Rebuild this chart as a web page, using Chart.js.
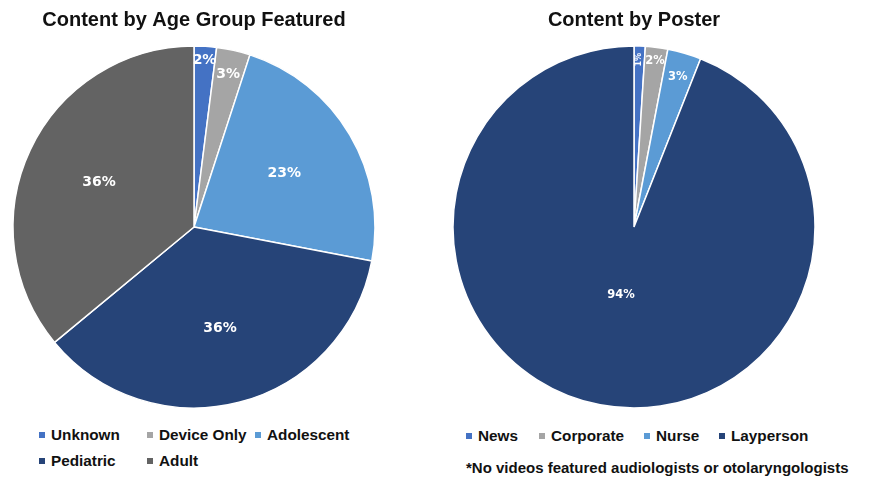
<!DOCTYPE html>
<html>
<head>
<meta charset="utf-8">
<script src="https://cdn.jsdelivr.net/npm/chart.js@4.4.1/dist/chart.umd.min.js"></script>
<style>
  html, body { margin: 0; padding: 0; background: #fff; }
  body { width: 877px; height: 482px; position: relative; overflow: hidden;
         font-family: "Liberation Sans", Arial, sans-serif; }
  canvas { position: absolute; top: 0; }
  .item { position: absolute; display: flex; align-items: center; white-space: nowrap;
          font-weight: bold; font-size: 15.3px; color: #111; height: 20px; transform: translateY(-50%); }
  .swatch { width: 6px; height: 6px; margin-right: 6px; flex: none; }
  .note { position: absolute; left: 466px; top: 467px; transform: translateY(-50%);
          font-weight: bold; font-size: 15px; color: #111; white-space: nowrap; }
</style>
</head>
<body>
<canvas id="ageChart" width="388" height="412" style="left:0px"></canvas>
<canvas id="posterChart" width="388" height="412" style="left:440px"></canvas>
<div id="ageLegend"></div>
<div id="posterLegend"></div>
<div class="note">*No videos featured audiologists or otolaryngologists</div>

<script>
// Age group breakdown (percent of videos)
const ageLabels = ['Unknown', 'Device Only', 'Adolescent', 'Pediatric', 'Adult'];
const ageValues = [2, 3, 23, 36, 36];
const ageColors = ['#4472C4', '#A5A5A5', '#5B9BD5', '#264478', '#636363'];

// Poster breakdown (percent of videos)
const posterLabels = ['News', 'Corporate', 'Nurse', 'Layperson'];
const posterValues = [1, 2, 3, 94];
const posterColors = ['#4472C4', '#A5A5A5', '#5B9BD5', '#264478'];

// Draws the percentage text inside each slice
const sliceLabels = {
  id: 'sliceLabels',
  afterDatasetsDraw(chart, args, opts) {
    const ctx = chart.ctx;
    const ds = chart.data.datasets[0];
    const total = ds.data.reduce((a, b) => a + b, 0);
    chart.getDatasetMeta(0).data.forEach((arc, i) => {
      const v = ds.data[i];
      const pct = v / total * 100;
      const p = arc.getProps(['x', 'y', 'startAngle', 'endAngle', 'outerRadius'], true);
      const mid = (p.startAngle + p.endAngle) / 2;
      const k = pct < 2.5 ? 0.925 : pct < 5 ? 0.865 : pct > 50 ? 0.38 : 0.58;
      const px = p.x + Math.cos(mid) * p.outerRadius * k;
      const py = p.y + Math.sin(mid) * p.outerRadius * k;
      let size = opts.size;
      ctx.save();
      ctx.translate(px, py);
      if (pct < 1.5) { ctx.rotate(-Math.PI / 2); size = opts.size * 0.7; }
      ctx.font = 'bold ' + size + 'px "DejaVu Sans", sans-serif';
      ctx.fillStyle = '#ffffff';
      ctx.textAlign = 'center';
      ctx.textBaseline = 'middle';
      ctx.fillText(v + '%', 0, 0);
      ctx.restore();
    });
  }
};

function makePie(id, title, labels, values, colors, labelSize) {
  return new Chart(document.getElementById(id), {
    type: 'pie',
    data: {
      labels: labels,
      datasets: [{
        data: values,
        backgroundColor: colors,
        borderColor: '#ffffff',
        borderWidth: 1.5,
        hoverOffset: 0,
        radius: 181
      }]
    },
    options: {
      responsive: false,
      animation: false,
      events: [],
      layout: { padding: 0 },
      plugins: {
        legend: { display: false },
        tooltip: { enabled: false },
        title: {
          display: true,
          text: title,
          color: '#111111',
          font: { family: '"Liberation Sans", Arial, sans-serif', size: 20, weight: 'bold', lineHeight: 1.2 },
          padding: { top: 8, bottom: 10 }
        },
        sliceLabels: { size: labelSize }
      }
    },
    plugins: [sliceLabels]
  });
}

makePie('ageChart', 'Content by Age Group Featured', ageLabels, ageValues, ageColors, 14);
makePie('posterChart', 'Content by Poster', posterLabels, posterValues, posterColors, 11.5);

// Legends below each pie
function buildLegend(containerId, labels, colors, xs, ys, cols) {
  const box = document.getElementById(containerId);
  labels.forEach((name, i) => {
    const el = document.createElement('div');
    el.className = 'item';
    el.style.left = xs[i % cols] + 'px';
    el.style.top = ys[Math.floor(i / cols)] + 'px';
    const sw = document.createElement('span');
    sw.className = 'swatch';
    sw.style.background = colors[i];
    el.appendChild(sw);
    el.appendChild(document.createTextNode(name));
    box.appendChild(el);
  });
}
buildLegend('ageLegend', ageLabels, ageColors, [39, 147, 255], [435, 461], 3);
buildLegend('posterLegend', posterLabels, posterColors, [466, 539, 644, 719], [435.5], 4);
</script>
</body>
</html>
